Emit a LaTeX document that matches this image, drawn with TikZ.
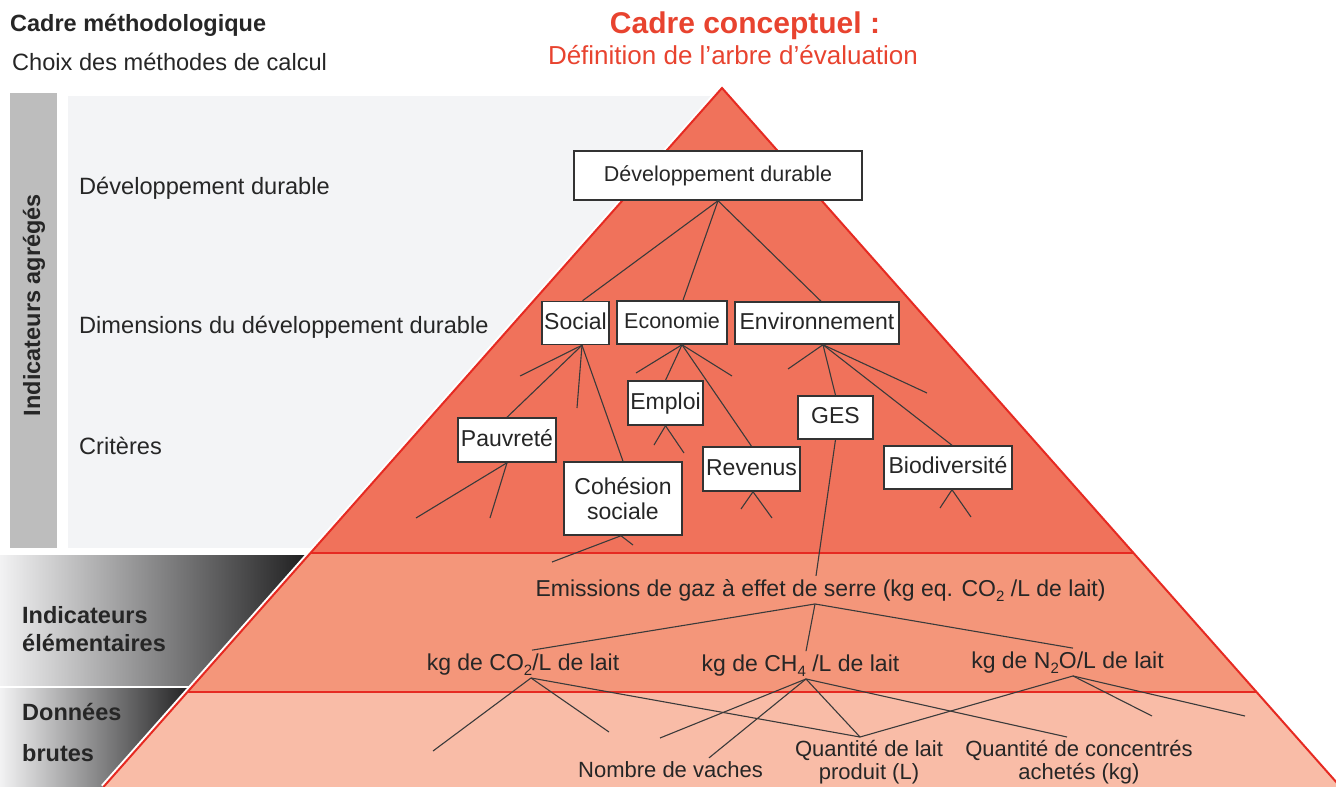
\documentclass[tikz,border=0pt]{standalone}
\usepackage{fontspec}
\setmainfont{Liberation Sans}
\definecolor{txt}{HTML}{262626}
\definecolor{redt}{HTML}{E8432F}
\definecolor{redl}{HTML}{E62A22}
\definecolor{bandA}{HTML}{F0725B}
\definecolor{bandB}{HTML}{F4967A}
\definecolor{bandC}{HTML}{F9BCA7}
\definecolor{barg}{HTML}{BDBDBD}
\definecolor{panelg}{HTML}{F3F4F6}
\definecolor{linec}{HTML}{3A3A3A}
\definecolor{boxc}{HTML}{333333}
\definecolor{gradL}{HTML}{F2F2F3}
\definecolor{gradR}{HTML}{1E1E1F}
\newcommand{\lowsub}[1]{\raisebox{-5pt}[0pt][0pt]{\fontsize{15}{15}\selectfont #1}}
\begin{document}
\begin{tikzpicture}[x=1pt,y=-1pt,
  lbl/.style={font=\fontsize{23.6}{27}\selectfont,text=txt,inner sep=0pt},
  blbl/.style={font=\bfseries\fontsize{23.5}{27}\selectfont,text=txt,inner sep=0pt},
  cbox/.style={draw=boxc,line width=1.5pt,fill=white,font=\fontsize{23}{26}\selectfont,text=txt,inner sep=0pt},
  tbox/.style={cbox,text height=16.5pt,text depth=4.5pt},
  ttxt/.style={font=\fontsize{23}{26}\selectfont,text=txt,inner sep=3pt},
  btxt/.style={font=\fontsize{22}{23.5}\selectfont,text=txt,inner sep=3pt,align=center},
  conn/.style={draw=linec,line width=1.1pt}]
\useasboundingbox (0,0) rectangle (1336,787);
% left panels
\fill[barg] (10,93) rectangle (57,548);
\fill[panelg] (68,96) rectangle (720,548);
\shade[left color=gradL,right color=gradR] (0,555) rectangle (308,685);
\shade[left color=gradL,right color=gradR] (0,688) rectangle (193,787);
% pyramid
\coordinate (apex) at (722,88);
\coordinate (L1) at (310.5,553);
\coordinate (R1) at (1133.5,553);
\coordinate (L2) at (187.5,692);
\coordinate (R2) at (1256.5,692);
\coordinate (L3) at (103.4,787);
\coordinate (R3) at (1340.6,787);
\draw[white,line width=6pt,line join=round] (L3) -- (apex) -- (R3);
\fill[bandA] (apex) -- (L1) -- (R1) -- cycle;
\fill[bandB] (L1) -- (L2) -- (R2) -- (R1) -- cycle;
\fill[bandC] (L2) -- (L3) -- (R3) -- (R2) -- cycle;
\draw[redl,line width=2.4pt] (L1) -- (R1) (L2) -- (R2);
\draw[redl,line width=2pt,line join=miter] (L3) -- (apex) -- (R3);
% titles
\node[blbl,anchor=base west] (t1) at (10,31) {Cadre méthodologique};
\node[lbl,anchor=base west] (t2) at (12,70) {Choix des méthodes de calcul};
\node[font=\bfseries\fontsize{30}{34}\selectfont,text=redt,inner sep=0pt,anchor=base] (t3) at (745,33) {Cadre conceptuel :};
\node[font=\fontsize{26}{30}\selectfont,text=redt,inner sep=0pt,anchor=base] (t4) at (733,64) {Définition de l’arbre d’évaluation};
% left labels
\node[lbl,anchor=base west] (l1) at (79,194) {Développement durable};
\node[lbl,anchor=base west] (l2) at (79,333) {Dimensions du développement durable};
\node[lbl,anchor=base west] (l3) at (79,454) {Critères};
\node[blbl,rotate=90] (l4) at (34,305) {Indicateurs agrégés};
\node[blbl,anchor=base west] (l5a) at (22,623) {Indicateurs};
\node[blbl,anchor=base west] (l5b) at (22,651) {élémentaires};
\node[blbl,anchor=base west] (l6a) at (22,720) {Données};
\node[blbl,anchor=base west] (l6b) at (22,761) {brutes};
% boxes
\node[tbox,font=\fontsize{21.5}{24}\selectfont,minimum width=288pt,minimum height=49pt] (dd) at (718,175.5) {Développement durable};
\node[tbox,minimum width=67pt,minimum height=43pt] (social) at (575.5,323) {Social};
\node[tbox,font=\fontsize{21.5}{24}\selectfont,minimum width=110pt,minimum height=43pt] (eco) at (672,322.5) {Economie};
\node[tbox,minimum width=164pt,minimum height=42pt] (env) at (817,323) {Environnement};
\node[tbox,minimum width=75pt,minimum height=44pt] (emploi) at (665.5,403) {Emploi};
\node[tbox,minimum width=98pt,minimum height=44pt] (pauv) at (507,440) {Pauvreté};
\node[cbox,align=center,font=\fontsize{23}{25}\selectfont,minimum width=118pt,minimum height=73pt] (cohesion) at (623,498.5) {Cohésion\\sociale};
\node[tbox,minimum width=97pt,minimum height=44pt] (revenus) at (751.5,469) {Revenus};
\node[tbox,minimum width=75pt,minimum height=43pt] (ges) at (835.5,417.5) {GES};
\node[tbox,minimum width=128pt,minimum height=43pt] (bio) at (948,467.5) {Biodiversité};
% text nodes
\node[ttxt,anchor=base] (emis) at (820.5,596) {Emissions de gaz à effet de serre (kg eq. CO\lowsub{2} /L de lait)};
\node[ttxt,anchor=base] (co2) at (523,670) {kg de CO\lowsub{2}/L de lait};
\node[ttxt,anchor=base] (ch4) at (800.5,671) {kg de CH\lowsub{4} /L de lait};
\node[ttxt,anchor=base] (n2o) at (1067.5,668) {kg de N\lowsub{2}O/L de lait};
\node[btxt,anchor=base] (nombre) at (670.5,777) {Nombre de vaches};
\node[btxt,anchor=north] (qlait) at (869,737) {Quantité de lait\\produit (L)};
\node[btxt,anchor=north] (qconc) at (1079,737) {Quantité de concentrés\\achetés (kg)};
% free stub ends
\coordinate (so1) at (520,376);
\coordinate (so2) at (577,408);
\coordinate (ec1) at (636,373);
\coordinate (ec2) at (732,376);
\coordinate (em1) at (654,445);
\coordinate (em2) at (684,453);
\coordinate (pa1) at (416,518);
\coordinate (pa2) at (490,518);
\coordinate (re1) at (741,509);
\coordinate (re2) at (772,518);
\coordinate (co1) at (552,562);
\coordinate (co2e) at (633,545);
\coordinate (en1) at (788,369);
\coordinate (en2) at (927,393);
\coordinate (bi1) at (940,508);
\coordinate (bi2) at (971,517);
\coordinate (c1) at (433,751);
\coordinate (c2) at (609,732);
\coordinate (h1) at (660,738);
\coordinate (n1) at (1152,716);
\coordinate (n2) at (1245,716);
% connectors
\draw[conn] (dd.south) -- ([xshift=7pt]social.north);
\draw[conn] (dd.south) -- ([xshift=11pt]eco.north);
\draw[conn] (dd.south) -- ([xshift=4pt]env.north);
\draw[conn] ([xshift=6.5pt]social.south) -- (so1);
\draw[conn] ([xshift=6.5pt]social.south) -- (pauv.north);
\draw[conn] ([xshift=6.5pt]social.south) -- (so2);
\draw[conn] ([xshift=6.5pt]social.south) -- (cohesion.north);
\draw[conn] ([xshift=10pt]eco.south) -- (ec1);
\draw[conn] ([xshift=10pt]eco.south) -- (emploi.north);
\draw[conn] ([xshift=10pt]eco.south) -- (revenus.north);
\draw[conn] ([xshift=10pt]eco.south) -- (ec2);
\draw[conn] (emploi.south) -- (em1);
\draw[conn] (emploi.south) -- (em2);
\draw[conn] (pauv.south) -- (pa1);
\draw[conn] (pauv.south) -- (pa2);
\draw[conn] ([xshift=1.5pt]revenus.south) -- (re1);
\draw[conn] ([xshift=1.5pt]revenus.south) -- (re2);
\draw[conn] ([xshift=-2pt]cohesion.south) -- (co1);
\draw[conn] ([xshift=-2pt]cohesion.south) -- (co2e);
\draw[conn] ([xshift=6pt]env.south) -- (en1);
\draw[conn] ([xshift=6pt]env.south) -- (ges.north);
\draw[conn] ([xshift=6pt]env.south) -- ([xshift=4pt]bio.north);
\draw[conn] ([xshift=6pt]env.south) -- (en2);
\draw[conn] ([xshift=4pt]bio.south) -- (bi1);
\draw[conn] ([xshift=4pt]bio.south) -- (bi2);
\draw[conn] (ges.south) -- ([xshift=-4.5pt]emis.north);
\draw[conn] ([xshift=-5.5pt]emis.south) -- ([xshift=9pt]co2.north);
\draw[conn] ([xshift=-5.5pt]emis.south) -- ([xshift=5.5pt]ch4.north);
\draw[conn] ([xshift=-5.5pt]emis.south) -- ([xshift=5.5pt]n2o.north);
\draw[conn] ([xshift=8pt]co2.south) -- (c1);
\draw[conn] ([xshift=8pt]co2.south) -- (c2);
\draw[conn] ([xshift=8pt]co2.south) -- ([xshift=-9pt]qlait.north);
\draw[conn] ([xshift=5.5pt]ch4.south) -- (h1);
\draw[conn] ([xshift=5.5pt]ch4.south) -- ([xshift=38.5pt]nombre.north);
\draw[conn] ([xshift=5.5pt]ch4.south) -- ([xshift=-9pt]qlait.north);
\draw[conn] ([xshift=5.5pt]ch4.south) -- ([xshift=-12pt]qconc.north);
\draw[conn] ([xshift=5.5pt]n2o.south) -- ([xshift=-9pt]qlait.north);
\draw[conn] ([xshift=5.5pt]n2o.south) -- (n1);
\draw[conn] ([xshift=5.5pt]n2o.south) -- (n2);
\end{tikzpicture}
\end{document}
